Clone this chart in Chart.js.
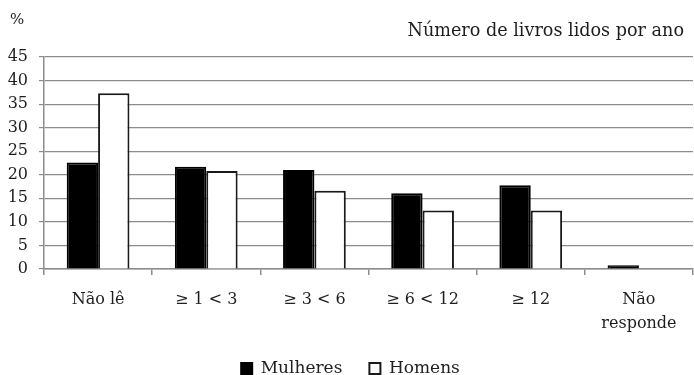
<!DOCTYPE html>
<html>
<head>
<meta charset="utf-8">
<script src="https://cdn.jsdelivr.net/npm/chart.js@4/dist/chart.umd.min.js"></script>
<style>
  body { margin: 0; background: #fff; }
  #wrap { width: 694px; height: 375px; }
</style>
</head>
<body>
<div id="wrap"><canvas id="chart"></canvas></div>
<script>
const categories = ['Não lê', '≥ 1 < 3', '≥ 3 < 6', '≥ 6 < 12', '≥ 12', ['Não', 'responde']];
const mulheres = [22.6, 21.7, 21.0, 16.1, 17.8, 0.8];
const homens = [37.3, 20.8, 16.6, 12.4, 12.4, 0];
const yTicks = [0, 5, 10, 15, 20, 25, 30, 35, 40, 45];

const serif = '"DejaVu Serif", "Liberation Serif", serif';
const gridGray = '#8c8c8c';
const textColor = '#1e1e1e';

// top texts: unit on the left, caption on the right
const headerText = {
    id: 'headerText',
    afterDraw(chart) {
        const ctx = chart.ctx;
        ctx.save();
        ctx.fillStyle = textColor;
        ctx.font = '15px ' + serif;
        ctx.textBaseline = 'middle';
        ctx.textAlign = 'left';
        ctx.fillText('%', 10, 20);
        ctx.font = '17.6px ' + serif;
        ctx.textAlign = 'right';
        ctx.fillText('Número de livros lidos por ano', 684, 31);
        ctx.restore();
    }
};

let chartdata = {
    labels: categories,
    datasets: [{
        label: 'Mulheres',
        backgroundColor: '#000000',
        borderColor: '#000000',
        borderWidth: 2,
        data: mulheres
    }, {
        label: 'Homens',
        backgroundColor: '#ffffff',
        borderColor: '#1a1a1a',
        borderWidth: 2,
        data: homens
    }]
};

let bar = new Chart(document.getElementById('chart'), {
    type: 'bar',
    data: chartdata,
    plugins: [headerText],
    options: {
        responsive: true,
        maintainAspectRatio: false,
        animation: false,
        layout: { padding: { top: 57, right: 1, left: 8, bottom: -12 } },
        datasets: { bar: { categoryPercentage: 0.58, barPercentage: 1 } },
        scales: {
            x: {
                afterFit: axis => { axis.height = 81; },
                grid: {
                    color: c => c.index === categories.length ? gridGray : 'rgba(0,0,0,0)',
                    tickColor: gridGray,
                    tickLength: 6,
                    lineWidth: 1.5
                },
                border: { color: gridGray, width: 1.5 },
                ticks: { color: textColor, font: { family: serif, size: 16, lineHeight: 1.5 }, padding: 13, maxRotation: 0, autoSkip: false }
            },
            y: {
                min: 0,
                max: 45,
                afterFit: axis => { axis.width = 36; },
                afterBuildTicks: axis => { axis.ticks = yTicks.map(v => ({ value: v })); },
                grid: { color: gridGray, tickColor: gridGray, tickLength: 5, lineWidth: 1.2 },
                border: { color: gridGray, width: 1.5 },
                ticks: { color: textColor, font: { family: serif, size: 16 }, padding: 11, autoSkip: false }
            }
        },
        plugins: {
            legend: {
                position: 'bottom',
                labels: {
                    color: textColor,
                    font: { family: serif, size: 17 },
                    boxWidth: 11,
                    boxHeight: 11,
                    padding: 10,
                    generateLabels: chart => {
                        const items = Chart.defaults.plugins.legend.labels.generateLabels(chart);
                        items[0].text += '\u2003';
                        return items;
                    }
                }
            },
            tooltip: { enabled: false }
        }
    }
});
</script>
</body>
</html>
